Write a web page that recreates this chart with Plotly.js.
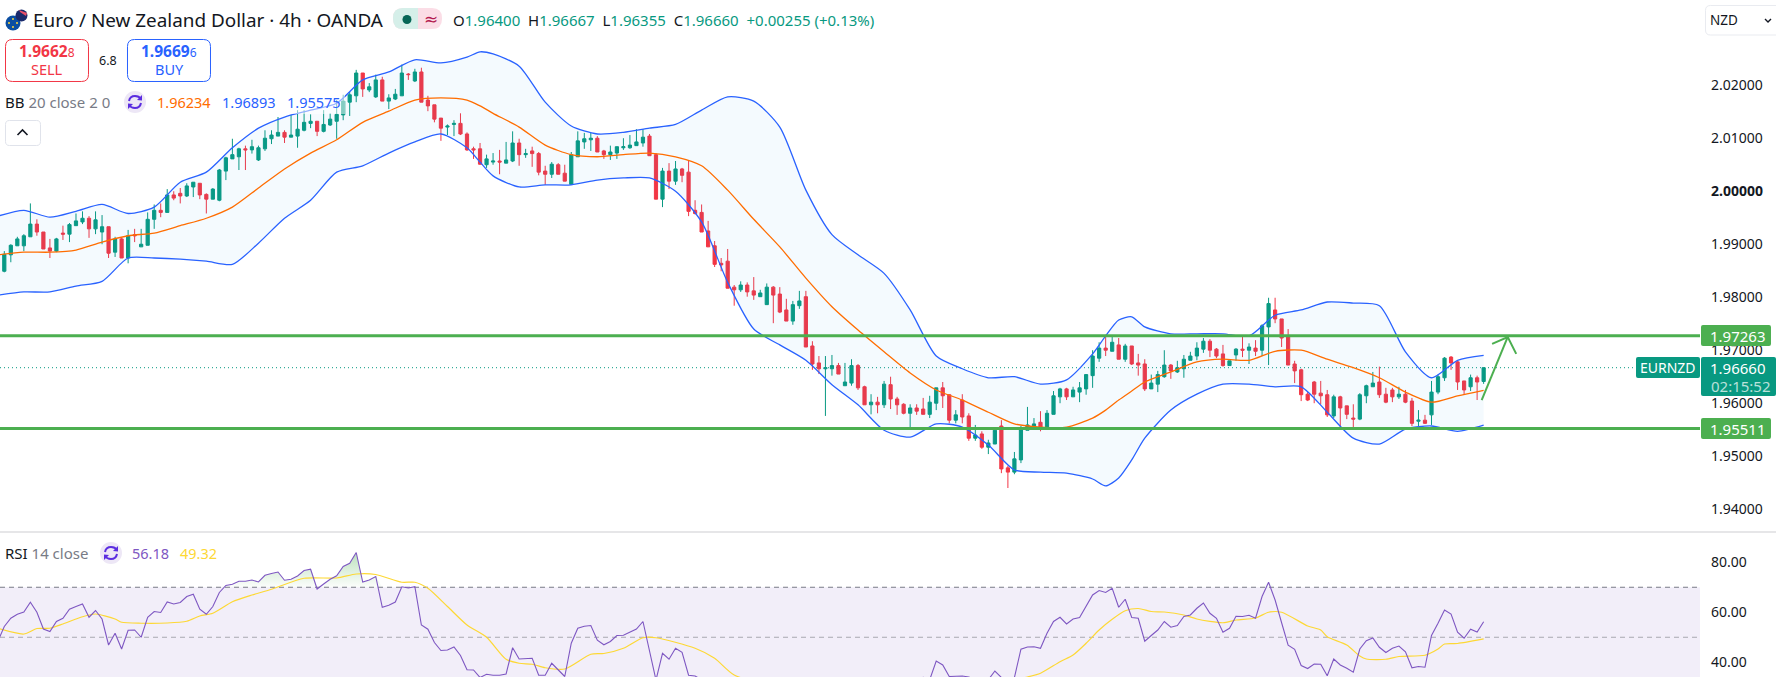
<!DOCTYPE html>
<html>
<head>
<meta charset="utf-8">
<script src="https://cdn.plot.ly/plotly-3.0.1.min.js"></script>
<style>html,body{margin:0;padding:0;background:#fff;overflow:hidden}#chart{width:1776px;height:677px}</style>
</head>
<body>
<div id="chart"></div>
<script>
const opens = [
1.9835,1.9848,1.9879,1.9896,1.9896,1.9913,1.9937,1.9922,1.9892,1.9886,
1.9920,1.9918,1.9934,1.9941,1.9948,1.9928,1.9922,1.9932,1.9884,1.9909,
1.9873,1.9917,1.9894,1.9897,1.9946,1.9963,1.9959,1.9992,1.9995,1.9990,
2.0007,2.0014,1.9993,1.9984,1.9982,2.0037,2.0060,2.0064,2.0079,2.0077,
2.0058,2.0079,2.0098,2.0103,2.0110,2.0101,2.0103,2.0114,2.0127,2.0131,
2.0112,2.0124,2.0131,2.0143,2.0167,2.0179,2.0222,2.0190,2.0177,2.0209,
2.0169,2.0173,2.0179,2.0220,2.0207,2.0224,2.0171,2.0162,2.0137,2.0120,
2.0125,2.0127,2.0107,2.0079,2.0079,2.0049,2.0054,2.0056,2.0052,2.0056,
2.0090,2.0068,2.0075,2.0070,2.0037,2.0031,2.0049,2.0033,2.0012,2.0064,
2.0092,2.0096,2.0099,2.0075,2.0068,2.0071,2.0081,2.0081,2.0085,2.0090,
2.0103,2.0068,1.9984,2.0037,2.0018,2.0041,2.0035,1.9963,1.9959,1.9924,
1.9896,1.9863,1.9867,1.9818,1.9813,1.9822,1.9811,1.9800,1.9785,1.9818,
1.9805,1.9775,1.9754,1.9783,1.9800,1.9707,1.9675,1.9664,1.9664,1.9670,
1.9632,1.9637,1.9670,1.9630,1.9596,1.9601,1.9596,1.9634,1.9607,1.9597,
1.9580,1.9590,1.9588,1.9578,1.9599,1.9628,1.9615,1.9567,1.9605,1.9575,
1.9533,1.9541,1.9516,1.9522,1.9556,1.9477,1.9469,1.9492,1.9548,1.9554,
1.9563,1.9550,1.9578,1.9611,1.9626,1.9611,1.9620,1.9626,1.9651,1.9684,
1.9703,1.9697,1.9709,1.9682,1.9707,1.9675,1.9673,1.9626,1.9635,1.9649,
1.9671,1.9658,1.9664,1.9680,1.9688,1.9701,1.9716,1.9701,1.9692,1.9670,
1.9690,1.9701,1.9699,1.9703,1.9699,1.9743,1.9775,1.9758,1.9724,1.9673,
1.9662,1.9616,1.9639,1.9618,1.9615,1.9575,1.9611,1.9594,1.9571,1.9569,
1.9613,1.9630,1.9639,1.9616,1.9624,1.9611,1.9616,1.9603,1.9565,1.9567,
1.9577,1.9620,1.9647,1.9686,1.9677,1.9641,1.9630,1.9647,1.96400];
const closes = [
1.9865,1.9880,1.9897,1.9909,1.9915,1.9937,1.9922,1.9890,1.9886,1.9909,
1.9918,1.9936,1.9943,1.9948,1.9928,1.9945,1.9932,1.9882,1.9909,1.9873,
1.9915,1.9915,1.9899,1.9946,1.9963,1.9959,1.9992,1.9986,1.9990,2.0009,
2.0016,1.9992,1.9984,2.0003,2.0039,2.0062,2.0068,2.0079,2.0077,2.0083,
2.0081,2.0099,2.0105,2.0110,2.0101,2.0105,2.0116,2.0129,2.0131,2.0112,
2.0125,2.0135,2.0144,2.0169,2.0181,2.0222,2.0192,2.0196,2.0209,2.0169,
2.0175,2.0182,2.0222,2.0219,2.0224,2.0167,2.0160,2.0135,2.0118,2.0122,
2.0127,2.0107,2.0077,2.0077,2.0050,2.0060,2.0056,2.0054,2.0058,2.0090,
2.0068,2.0070,2.0070,2.0035,2.0031,2.0050,2.0031,2.0018,2.0068,2.0094,
2.0098,2.0099,2.0073,2.0068,2.0073,2.0083,2.0083,2.0086,2.0092,2.0101,
2.0066,1.9984,2.0037,2.0018,2.0041,2.0029,1.9961,1.9957,1.9922,1.9894,
1.9861,1.9860,1.9816,1.9813,1.9822,1.9809,1.9803,1.9807,1.9818,1.9803,
1.9771,1.9754,1.9785,1.9792,1.9705,1.9673,1.9664,1.9666,1.9670,1.9654,
1.9639,1.9670,1.9628,1.9596,1.9601,1.9596,1.9635,1.9607,1.9596,1.9580,
1.9590,1.9584,1.9578,1.9601,1.9628,1.9613,1.9567,1.9577,1.9573,1.9533,
1.9539,1.9516,1.9524,1.9548,1.9475,1.9469,1.9494,1.9550,1.9558,1.9560,
1.9552,1.9580,1.9613,1.9626,1.9611,1.9624,1.9628,1.9653,1.9688,1.9703,
1.9699,1.9714,1.9682,1.9707,1.9673,1.9671,1.9626,1.9637,1.9653,1.9671,
1.9660,1.9666,1.9682,1.9688,1.9703,1.9716,1.9699,1.9688,1.9670,1.9679,
1.9701,1.9699,1.9705,1.9697,1.9745,1.9787,1.9758,1.9722,1.9671,1.9660,
1.9615,1.9605,1.9616,1.9613,1.9577,1.9611,1.9590,1.9578,1.9569,1.9615,
1.9632,1.9637,1.9615,1.9601,1.9611,1.9616,1.9601,1.9561,1.9567,1.9561,
1.9620,1.9649,1.9684,1.9675,1.9639,1.9624,1.9647,1.9639,1.96660];
const highs = [
1.9873,1.9886,1.9899,1.9913,1.9918,1.9976,1.9946,1.9922,1.9909,1.9911,
1.9934,1.9939,1.9957,1.9961,1.9952,1.9961,1.9954,1.9932,1.9913,1.9911,
1.9926,1.9928,1.9928,1.9959,1.9974,1.9976,2.0003,1.9999,2.0005,2.0014,
2.0016,2.0014,1.9995,2.0005,2.0041,2.0064,2.0098,2.0081,2.0085,2.0096,
2.0085,2.0114,2.0114,2.0139,2.0114,2.0143,2.0152,2.0152,2.0144,2.0131,
2.0152,2.0146,2.0171,2.0181,2.0186,2.0228,2.0222,2.0203,2.0219,2.0215,
2.0182,2.0192,2.0238,2.0222,2.0230,2.0232,2.0179,2.0162,2.0137,2.0125,
2.0133,2.0146,2.0110,2.0083,2.0090,2.0068,2.0071,2.0077,2.0092,2.0112,
2.0098,2.0079,2.0083,2.0073,2.0047,2.0054,2.0052,2.0049,2.0073,2.0112,
2.0109,2.0109,2.0103,2.0077,2.0085,2.0083,2.0099,2.0105,2.0116,2.0116,
2.0107,2.0071,2.0043,2.0052,2.0056,2.0043,2.0056,1.9982,1.9974,1.9943,
1.9905,1.9873,1.9890,1.9822,1.9829,1.9827,1.9837,1.9813,1.9825,1.9820,
1.9818,1.9796,1.9792,1.9811,1.9811,1.9716,1.9688,1.9688,1.9690,1.9675,
1.9675,1.9682,1.9673,1.9632,1.9616,1.9611,1.9641,1.9649,1.9611,1.9599,
1.9597,1.9597,1.9609,1.9613,1.9628,1.9639,1.9616,1.9586,1.9616,1.9580,
1.9558,1.9546,1.9530,1.9552,1.9567,1.9481,1.9507,1.9556,1.9592,1.9571,
1.9584,1.9586,1.9622,1.9628,1.9628,1.9630,1.9639,1.9654,1.9699,1.9714,
1.9728,1.9724,1.9722,1.9711,1.9707,1.9692,1.9682,1.9653,1.9660,1.9699,
1.9673,1.9679,1.9690,1.9696,1.9714,1.9722,1.9720,1.9703,1.9709,1.9679,
1.9703,1.9726,1.9712,1.9718,1.9748,1.9798,1.9798,1.9758,1.9739,1.9679,
1.9664,1.9620,1.9641,1.9641,1.9624,1.9615,1.9613,1.9594,1.9597,1.9618,
1.9634,1.9658,1.9668,1.9628,1.9628,1.9630,1.9624,1.9609,1.9586,1.9577,
1.9641,1.9653,1.9686,1.9688,1.9679,1.9641,1.9653,1.9651,1.96667];
const lows = [
1.9829,1.9846,1.9865,1.9896,1.9886,1.9913,1.9915,1.9890,1.9873,1.9884,
1.9907,1.9903,1.9934,1.9937,1.9911,1.9918,1.9899,1.9873,1.9875,1.9873,
1.9863,1.9903,1.9894,1.9897,1.9928,1.9950,1.9959,1.9982,1.9976,1.9988,
1.9988,1.9984,1.9957,1.9984,1.9980,2.0020,2.0060,2.0039,2.0039,2.0070,
2.0056,2.0075,2.0088,2.0103,2.0090,2.0101,2.0081,2.0112,2.0118,2.0103,
2.0110,2.0122,2.0098,2.0133,2.0141,2.0167,2.0177,2.0186,2.0175,2.0169,
2.0154,2.0171,2.0179,2.0209,2.0205,2.0167,2.0150,2.0129,2.0094,2.0105,
2.0103,2.0105,2.0075,2.0060,2.0049,2.0043,2.0049,2.0031,2.0052,2.0054,
2.0047,2.0062,2.0045,2.0029,2.0011,2.0024,2.0031,2.0018,2.0012,2.0064,
2.0079,2.0075,2.0073,2.0060,2.0058,2.0060,2.0077,2.0079,2.0085,2.0083,
2.0066,1.9984,1.9969,2.0003,2.0011,2.0016,1.9952,1.9955,1.9922,1.9894,
1.9856,1.9848,1.9816,1.9783,1.9809,1.9800,1.9794,1.9800,1.9785,1.9750,
1.9769,1.9754,1.9747,1.9777,1.9705,1.9662,1.9654,1.9575,1.9651,1.9654,
1.9632,1.9632,1.9624,1.9596,1.9578,1.9580,1.9590,1.9588,1.9577,1.9578,
1.9554,1.9577,1.9578,1.9571,1.9586,1.9590,1.9561,1.9561,1.9561,1.9528,
1.9528,1.9513,1.9503,1.9522,1.9467,1.9439,1.9465,1.9486,1.9548,1.9550,
1.9546,1.9550,1.9578,1.9599,1.9605,1.9611,1.9601,1.9615,1.9628,1.9677,
1.9688,1.9697,1.9682,1.9677,1.9671,1.9651,1.9622,1.9626,1.9620,1.9647,
1.9645,1.9656,1.9647,1.9680,1.9680,1.9694,1.9686,1.9684,1.9668,1.9670,
1.9679,1.9686,1.9673,1.9688,1.9688,1.9671,1.9750,1.9705,1.9671,1.9637,
1.9603,1.9603,1.9599,1.9597,1.9573,1.9571,1.9550,1.9569,1.9554,1.9567,
1.9599,1.9630,1.9609,1.9599,1.9601,1.9607,1.9599,1.9556,1.9556,1.9560,
1.9558,1.9616,1.9641,1.9662,1.9624,1.9615,1.9622,1.9605,1.96355];

const bandX = [0,4,8,12,16,20,24,28,32,36,40,44,48,52,56,60,64,68,72,74,76,80,84,88,92,96,100,104,108,112,116,120,124,128,132,136,140,144,148,152,156,160,164,168,170,172,174,176,180,184,188,192,196,200,204,208,212,216,220,224,228];
const bbUpper = [1.9952,1.9963,1.9950,1.9961,1.9974,1.9957,1.9969,2.0016,2.0035,2.0081,2.0118,2.0139,2.0152,2.0165,2.0209,2.0224,2.0247,2.0241,2.0252,2.0262,2.0258,2.0235,2.0167,2.0122,2.0107,2.0110,2.0118,2.0125,2.0152,2.0177,2.0169,2.0120,2.0001,1.9917,1.9879,1.9844,1.9775,1.9688,1.9664,1.9647,1.9649,1.9635,1.9643,1.9692,1.9726,1.9756,1.9762,1.9743,1.9730,1.9730,1.9730,1.9726,1.9765,1.9775,1.9790,1.9788,1.9783,1.9696,1.9647,1.9680,1.96893];
const bbMiddle = [1.9879,1.9884,1.9884,1.9888,1.9903,1.9915,1.9920,1.9934,1.9948,1.9969,2.0005,2.0041,2.0071,2.0096,2.0129,2.0150,2.0171,2.0175,2.0171,2.0160,2.0146,2.0120,2.0086,2.0068,2.0064,2.0068,2.0071,2.0064,2.0047,2.0001,1.9946,1.9894,1.9835,1.9781,1.9737,1.9696,1.9656,1.9624,1.9605,1.9582,1.9560,1.9554,1.9554,1.9571,1.9586,1.9605,1.9622,1.9639,1.9658,1.9677,1.9682,1.9680,1.9697,1.9699,1.9682,1.9666,1.9647,1.9620,1.9601,1.9613,1.96234];
const bbLower = [1.9803,1.9809,1.9809,1.9820,1.9829,1.9873,1.9873,1.9871,1.9867,1.9861,1.9901,1.9948,1.9982,2.0035,2.0047,2.0071,2.0092,2.0107,2.0081,2.0054,2.0028,2.0007,2.0011,2.0011,2.0020,2.0024,2.0024,1.9999,1.9941,1.9827,1.9739,1.9709,1.9680,1.9634,1.9596,1.9548,1.9535,1.9560,1.9554,1.9520,1.9473,1.9469,1.9467,1.9456,1.9443,1.9458,1.9492,1.9533,1.9586,1.9616,1.9635,1.9635,1.9630,1.9630,1.9582,1.9533,1.9522,1.9550,1.9556,1.9546,1.95575];

const rsi = [
48.3,54.3,57.6,59.2,60.1,64.0,60.0,53.3,52.3,56.3,
57.6,61.2,62.3,63.3,58.0,60.7,57.3,46.9,51.6,45.3,
52.8,52.9,50.0,58.0,60.3,59.9,64.1,63.3,63.9,66.3,
67.2,61.2,59.2,62.3,67.9,70.7,71.2,72.4,72.4,72.9,
72.1,74.8,75.5,76.1,72.8,73.2,74.5,76.7,77.2,69.3,
71.3,73.2,74.6,78.3,79.6,83.9,72.1,72.9,74.3,62.0,
62.8,64.1,70.2,69.7,70.2,54.9,53.2,47.9,44.7,44.9,
46.1,42.7,37.0,36.9,33.9,35.2,34.8,34.8,35.3,45.8,
41.3,41.3,41.6,34.8,34.8,39.6,36.9,34.3,47.6,53.6,
54.4,54.7,48.8,47.0,48.3,50.7,50.8,52.0,53.3,56.3,
44.9,32.9,43.6,41.2,45.6,44.0,34.8,34.5,33,31,
32,30,29,30,28,27,28,26,25,27,
24,22,21,22,20,19,21,23,22,24,
26,25,27,28,26,29,30,31,29,32,
33,32,34,33,40.5,38.9,34.3,34.5,34.5,34.1,
33,32,33,36.5,33.9,33,33.9,45.2,46.1,46.2,
45.6,51.6,56.3,58.0,55.3,57.3,57.9,62.3,66.9,68.7,
67.9,69.6,62.0,65.2,57.9,57.6,48.4,50.7,52.9,56.3,
54.0,54.7,58.3,58.9,61.6,63.7,59.6,57.6,52.0,53.6,
58.4,58.3,58.8,57.6,66.3,72.0,64.9,55.8,46.8,45.2,
38.7,37.5,39.3,39.2,34.6,41.3,38.9,37.6,36.0,45.3,
48.6,49.7,46.0,43.9,45.6,46.5,44.2,37.8,38.3,38.0,
50.7,55.6,60.9,59.3,52.0,49.6,53.2,52.1,56.18];
const rsiMaX = [0,4,6,8,10,13,15,18,19,22,26,29,31,33,36,39,42,47,52,55,58,62,64,66,69,72,75,78,80,82,84,87,91,93,96,99,101,107,110,113,120,135,150,158,160,163,165,167,169,171,173,175,177,179,182,184,188,190,193,195,197,201,203,204,207,209,210,213,215,219,221,222,224,228];
const rsiMa = [53.6,51.3,53.5,53.6,55.3,58.2,59.3,57.3,56.0,55.6,55.7,56.4,58.5,59.6,64.2,66.9,69.2,73.6,73.7,75.3,75.1,72.0,72.0,69.6,62.3,54.9,50.0,41.2,39.6,39.2,37.8,37.3,43.2,43.5,45.6,49.8,49.8,45.6,41.6,34.9,30,28,30,34.1,35.6,40.2,42.9,47.6,52.9,57.2,60.6,61.5,60.3,60.1,58.9,57.3,55.8,56.9,57.7,60.0,60.0,54.5,52.9,50.2,46.9,42.5,41.3,41.2,42.3,42.8,45.3,47.3,47.5,49.32];

const priceTicks = [1.94,1.95,1.96,1.97,1.98,1.99,2.00,2.01,2.02];
const priceTickText = ['1.94000','1.95000','1.96000','1.97000','1.98000','1.99000','<b>2.00000</b>','2.01000','2.02000'];
const rsiTicks = [40,60,80];
const rsiTickText = ['40.00','60.00','80.00'];
const resistance = 1.97263, support = 1.95511, lastPrice = 1.96660;
const arrowShaftX = [227.7,231.7], arrowShaftY = [1.9605,1.9724];
const arrowHeadX = [229.3,231.7,233.0], arrowHeadY = [1.9711,1.9724,1.9692];

const W = 1776, H = 677, FONT = '"Noto Sans", sans-serif';
const GREEN = '#089981', RED = '#f23645', BLUE = '#2962ff', ORANGE = '#ff6d00', LEVEL = '#4caf50';
const px = x => +(x / W).toFixed(5), py = y => +(1 - y / H).toFixed(5);
const P = (x, y) => px(x) + ' ' + py(y);
const rr = (x0, y0, x1, y1, r) => `M ${P(x0 + r, y0)} L ${P(x1 - r, y0)} Q ${P(x1, y0)} ${P(x1, y0 + r)} L ${P(x1, y1 - r)} Q ${P(x1, y1)} ${P(x1 - r, y1)} L ${P(x0 + r, y1)} Q ${P(x0, y1)} ${P(x0, y1 - r)} L ${P(x0, y0 + r)} Q ${P(x0, y0)} ${P(x0 + r, y0)} Z`;
const pshape = (path, fill, line, w, layer) => ({type: 'path', xref: 'paper', yref: 'paper', path, fillcolor: fill || 'rgba(0,0,0,0)', line: {color: line || 'rgba(0,0,0,0)', width: line ? (w || 1) : 0}, layer: layer || 'above'});
const circ = (cx, cy, r, fill) => ({type: 'circle', xref: 'paper', yref: 'paper', x0: px(cx - r), x1: px(cx + r), y0: py(cy + r), y1: py(cy - r), fillcolor: fill, line: {width: 0}, layer: 'above'});
const ann = (x, y, text, size, color, opt) => Object.assign({xref: 'paper', yref: 'paper', x: px(x), y: py(y), text, showarrow: false, xanchor: 'left', yanchor: 'middle', font: {family: FONT, size, color}, borderpad: 0, borderwidth: 0}, opt || {});
const syncIcon = (cx, cy) => [
  circ(cx, cy, 11, '#ede7f6'),
  pshape(`M ${P(cx - 6, cy - 1)} Q ${P(cx - 5, cy - 6)} ${P(cx, cy - 6)} Q ${P(cx + 4, cy - 6)} ${P(cx + 6, cy - 3)}`, null, '#5b2de0', 2),
  pshape(`M ${P(cx + 7, cy - 7)} L ${P(cx + 7, cy - 1.5)} L ${P(cx + 2, cy - 2)} Z`, '#5b2de0'),
  pshape(`M ${P(cx + 6, cy + 1)} Q ${P(cx + 5, cy + 6)} ${P(cx, cy + 6)} Q ${P(cx - 4, cy + 6)} ${P(cx - 6, cy + 3)}`, null, '#5b2de0', 2),
  pshape(`M ${P(cx - 7, cy + 7)} L ${P(cx - 7, cy + 1.5)} L ${P(cx - 2, cy + 2)} Z`, '#5b2de0')
];

const idx = closes.map((_, i) => i);
const smooth = {shape: 'spline', smoothing: 0.7};
const traces = [
  {type: 'scatter', mode: 'lines', x: bandX, y: bbUpper, xaxis: 'x', yaxis: 'y', line: Object.assign({color: BLUE, width: 1.3}, smooth), hoverinfo: 'skip'},
  {type: 'scatter', mode: 'lines', x: bandX, y: bbLower, xaxis: 'x', yaxis: 'y', line: Object.assign({color: BLUE, width: 1.3}, smooth), fill: 'tonexty', fillcolor: 'rgba(33,150,243,0.05)', hoverinfo: 'skip'},
  {type: 'scatter', mode: 'lines', x: bandX, y: bbMiddle, xaxis: 'x', yaxis: 'y', line: Object.assign({color: ORANGE, width: 1.3}, smooth), hoverinfo: 'skip'},
  {type: 'candlestick', x: idx, open: opens, high: highs, low: lows, close: closes, xaxis: 'x', yaxis: 'y', whiskerwidth: 0,
   increasing: {line: {color: GREEN, width: 1}, fillcolor: GREEN}, decreasing: {line: {color: RED, width: 1}, fillcolor: RED}, hoverinfo: 'skip'},
  {type: 'scatter', mode: 'lines', x: arrowShaftX, y: arrowShaftY, xaxis: 'x', yaxis: 'y', line: {color: LEVEL, width: 2}, hoverinfo: 'skip'},
  {type: 'scatter', mode: 'lines', x: arrowHeadX, y: arrowHeadY, xaxis: 'x', yaxis: 'y', line: {color: LEVEL, width: 2}, hoverinfo: 'skip'},
  {type: 'scatter', mode: 'lines', x: idx, y: idx.map(() => 70), xaxis: 'x', yaxis: 'y2', line: {width: 0}, hoverinfo: 'skip'},
  {type: 'scatter', mode: 'lines', x: idx, y: rsi.map(v => Math.max(v, 70)), xaxis: 'x', yaxis: 'y2', line: {width: 0}, fill: 'tonexty',
   fillgradient: {type: 'vertical', start: 70, stop: 84, colorscale: [[0, 'rgba(76,175,80,0.02)'], [1, 'rgba(76,175,80,0.38)']]}, hoverinfo: 'skip'},
  {type: 'scatter', mode: 'lines', x: rsiMaX, y: rsiMa, xaxis: 'x', yaxis: 'y2', line: Object.assign({color: '#fdd835', width: 1.2}, smooth), hoverinfo: 'skip'},
  {type: 'scatter', mode: 'lines', x: idx, y: rsi, xaxis: 'x', yaxis: 'y2', line: {color: '#7e57c2', width: 1.1}, hoverinfo: 'skip'}
];

const hLine = (y, yref, color, width, dash, layer) => ({type: 'line', xref: 'x domain', x0: 0, x1: 1, yref, y0: y, y1: y, line: {color, width, dash: dash || 'solid'}, layer: layer || 'above'});
const shapes = [
  {type: 'rect', xref: 'x domain', x0: 0, x1: 1, yref: 'y2', y0: 30, y1: 70, fillcolor: 'rgba(126,87,194,0.1)', line: {width: 0}, layer: 'below'},
  hLine(70, 'y2', '#787b86', 1, '5px,4px', 'below'),
  hLine(50, 'y2', '#a8a8b0', 1, '5px,4px', 'below'),
  hLine(lastPrice, 'y', GREEN, 1, '1px,3px', 'below'),
  hLine(resistance, 'y', LEVEL, 3),
  hLine(support, 'y', LEVEL, 3),
  {type: 'line', xref: 'paper', yref: 'paper', x0: 0, x1: 1, y0: py(532), y1: py(532), line: {color: '#e6e6e8', width: 2}, layer: 'above'},
  pshape(rr(280, 90, 345, 114, 0), 'rgba(255,255,255,0.5)'),
  // header flags
  circ(13, 23, 7.5, '#0b4ea2'), circ(21.5, 15.5, 6, '#1a2a6c'), pshape(`M ${P(19, 10)} L ${P(27, 13)} L ${P(26, 16)} L ${P(20, 12)} Z`, '#e8506a'),
  circ(13, 19, 1, '#ffd83a'), circ(17, 23, 1, '#ffd83a'), circ(13, 27, 1, '#ffd83a'), circ(9, 23, 1, '#ffd83a'),
  // status pill
  pshape(rr(393, 8, 442, 29, 10), '#fbdde6'),
  pshape(`M ${P(418, 8)} L ${P(403, 8)} Q ${P(393, 8)} ${P(393, 18)} L ${P(393, 19)} Q ${P(393, 29)} ${P(403, 29)} L ${P(418, 29)} Z`, '#d5efe9'),
  circ(407, 19.5, 4.5, '#056656'),
  // buy / sell buttons
  pshape(rr(5.5, 39.5, 88.5, 81.5, 7), '#ffffff', RED, 1),
  pshape(rr(127.5, 39.5, 210.5, 81.5, 7), '#ffffff', BLUE, 1),
  // collapse button
  pshape(rr(5.5, 120.5, 40.5, 145.5, 4), '#ffffff', '#e0e3eb', 1),
  pshape(`M ${P(17.5, 135)} L ${P(22.5, 130)} L ${P(27.5, 135)}`, null, '#131722', 1.6),
  // currency dropdown
  pshape(rr(1705.5, 5.5, 1790, 35, 5), '#ffffff', '#e9ebf0', 1),
  pshape(`M ${P(1765, 19)} L ${P(1768, 22)} L ${P(1771, 19)}`, null, '#131722', 1.4),
  // price tags
  pshape(rr(1701, 325, 1771, 346, 2), LEVEL),
  pshape(rr(1701, 418, 1771, 439, 2), LEVEL),
  pshape(rr(1636, 357, 1700, 378, 2), GREEN),
  pshape(rr(1701, 357, 1776, 396, 2), GREEN)
].concat(syncIcon(135, 102), syncIcon(111, 553));

const v = s => `<span style="color:${GREEN}">${s}</span>`;
const annotations = [
  ann(33, 20, 'Euro / New Zealand Dollar · 4h · OANDA', 18.9, '#131722'),
  ann(431, 19, '≈', 17, '#b3194f', {xanchor: 'center', font: {family: '"DejaVu Sans"', size: 17, color: '#b3194f'}}),
  ann(453, 20, `O${v('1.96400')}  H${v('1.96667')}  L${v('1.96355')}  C${v('1.96660')}  ${v('+0.00255 (+0.13%)')}`, 15, '#131722'),
  ann(47, 51, '<b>1.9662</b><span style="font-size:12px">8</span>', 15.5, RED, {xanchor: 'center'}),
  ann(47, 69, 'SELL', 14.5, RED, {xanchor: 'center'}),
  ann(108, 60, '6.8', 12.5, '#131722', {xanchor: 'center'}),
  ann(169, 51, '<b>1.9669</b><span style="font-size:12px">6</span>', 15.5, BLUE, {xanchor: 'center'}),
  ann(169, 69, 'BUY', 14.5, BLUE, {xanchor: 'center'}),
  ann(5, 102, `BB <span style="color:#787b86">20 close 2 0</span>`, 15, '#131722'),
  ann(157, 102, '1.96234', 14.5, ORANGE),
  ann(222, 102, '1.96893', 14.5, BLUE),
  ann(287, 102, '1.95575', 14.5, BLUE),
  ann(5, 553, `RSI <span style="color:#787b86">14 close</span>`, 15, '#131722'),
  ann(132, 553, '56.18', 14.5, '#7e57c2'),
  ann(180, 553, '49.32', 14.5, '#fdd835'),
  ann(1710, 20.5, 'NZD', 13.5, '#131722'),
  ann(1738, 335.5, '1.97263', 15, '#ffffff', {xanchor: 'center'}),
  ann(1738, 428.5, '1.95511', 15, '#ffffff', {xanchor: 'center'}),
  ann(1668, 367.5, 'EURNZD', 14, '#ffffff', {xanchor: 'center'}),
  ann(1738, 367.5, '1.96660', 15, '#ffffff', {xanchor: 'center'}),
  ann(1741, 386, '02:15:52', 15, 'rgba(255,255,255,0.72)', {xanchor: 'center'})
];

const tickfont = {family: FONT, size: 14, color: '#131722'};
const layout = {
  width: W, height: H, autosize: false, showlegend: false, dragmode: false, hovermode: false,
  margin: {l: 0, r: 0, t: 0, b: 0, pad: 0}, paper_bgcolor: '#ffffff', plot_bgcolor: '#ffffff',
  xaxis: {domain: [0, 1700 / W], range: [0.34, 261.2], anchor: 'y2', showgrid: false, zeroline: false, showline: false, showticklabels: false, ticks: '', rangeslider: {visible: false}, type: 'linear'},
  yaxis: {domain: [145 / H, 1], range: [1.9356, 2.03598], side: 'right', anchor: 'x', showgrid: false, zeroline: false, showline: false, ticks: '', tickmode: 'array', tickvals: priceTicks, ticktext: priceTickText, tickfont, ticklabelstandoff: 10, automargin: false},
  yaxis2: {domain: [0, 145 / H], range: [34.1, 92.1], side: 'right', anchor: 'x', showgrid: false, zeroline: false, showline: false, ticks: '', tickmode: 'array', tickvals: rsiTicks, ticktext: rsiTickText, tickfont, ticklabelstandoff: 10, automargin: false},
  shapes, annotations
};
Plotly.newPlot('chart', traces, layout, {displayModeBar: false, staticPlot: true, responsive: false});
</script>
</body>
</html>
